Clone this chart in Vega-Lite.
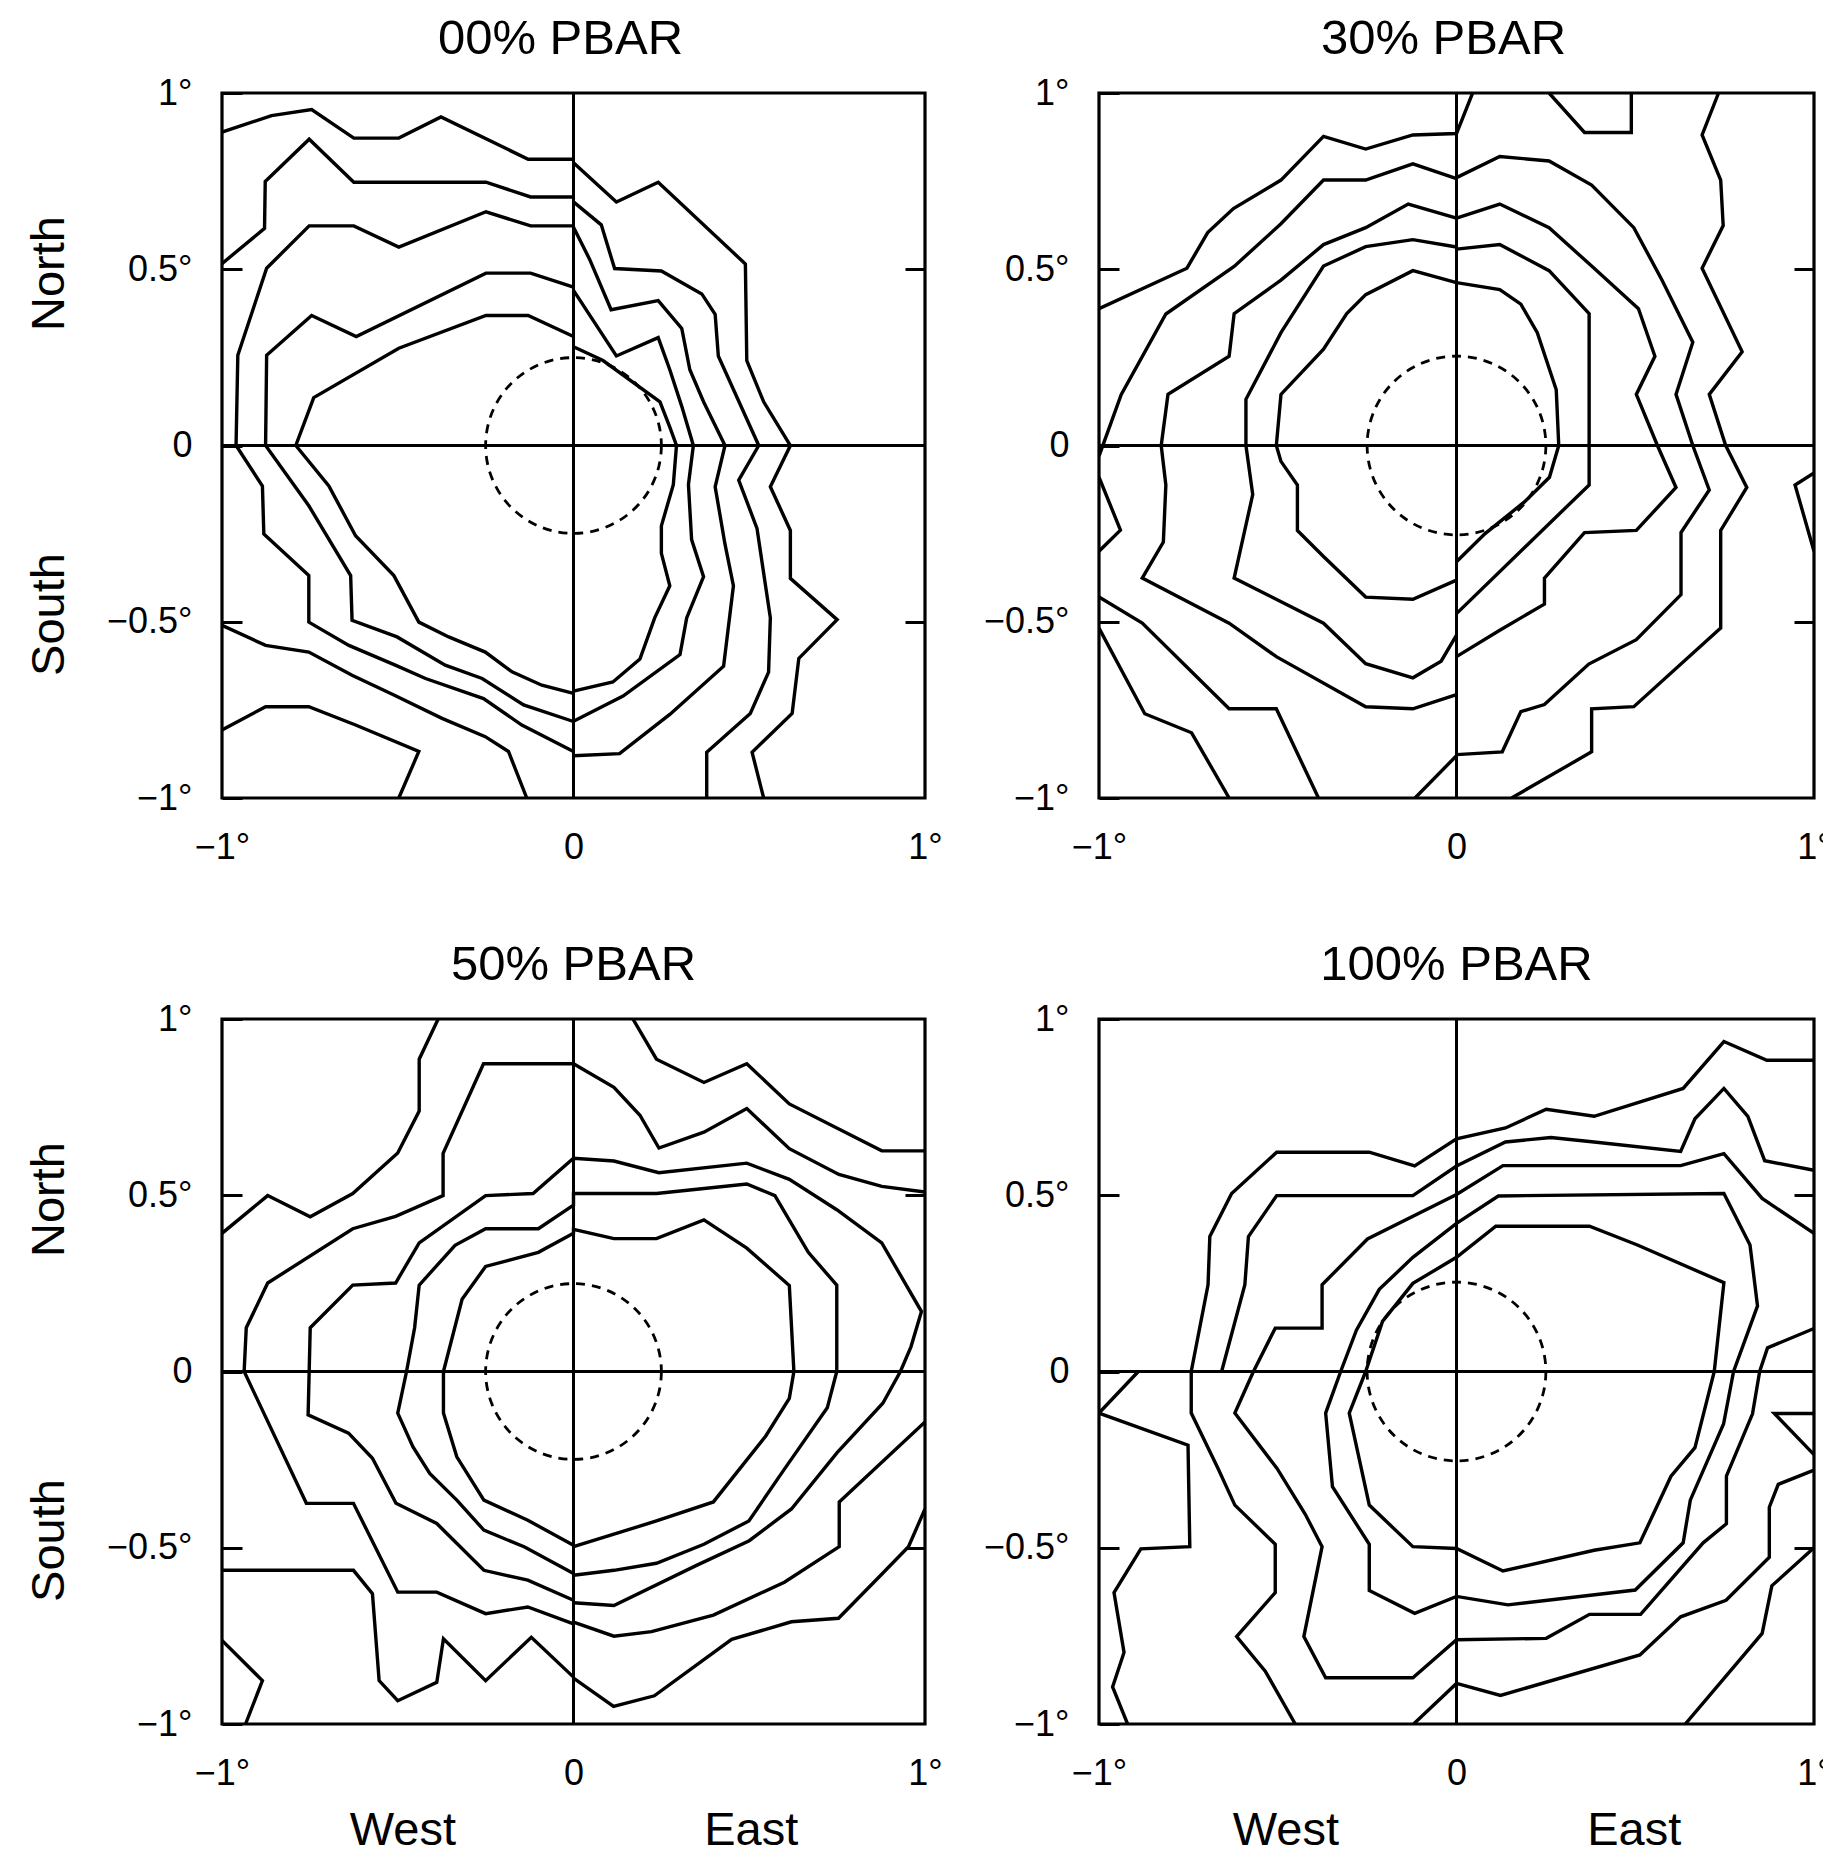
{
"$schema": "https://vega.github.io/schema/vega-lite/v6.json",
"padding": {"left": 23, "top": 13, "right": 0, "bottom": 0},
"background": "white",
"config": {
  "view": {"stroke": "black", "strokeWidth": 3.2},
  "font": "Liberation Sans",
  "axis": {"labelFont": "Liberation Sans", "titleFont": "Liberation Sans", "labelColor": "black", "titleColor": "black", "labelFontSize": 36, "titleFontSize": 47, "titleFontWeight": "normal", "grid": false, "domain": false, "labelFlush": false, "labelOverlap": false},
  "title": {"font": "Liberation Sans", "fontSize": 49, "fontWeight": "normal", "color": "black", "offset": 11, "baseline": "alphabetic", "frame": "group", "anchor": "middle"}
},
"datasets": {
"p1": [
{"c":"a","i":0,"x":-1,"y":0.889},{"c":"a","i":1,"x":-0.859,"y":0.936},{"c":"a","i":2,"x":-0.745,"y":0.953},{"c":"a","i":3,"x":-0.625,"y":0.872},{"c":"a","i":4,"x":-0.497,"y":0.872},{"c":"a","i":5,"x":-0.377,"y":0.932},{"c":"a","i":6,"x":-0.129,"y":0.812},{"c":"a","i":7,"x":0,"y":0.812},
{"c":"b","i":0,"x":-1,"y":0.516},{"c":"b","i":1,"x":-0.879,"y":0.616},{"c":"b","i":2,"x":-0.877,"y":0.749},{"c":"b","i":3,"x":-0.752,"y":0.869},{"c":"b","i":4,"x":-0.625,"y":0.747},{"c":"b","i":5,"x":-0.249,"y":0.747},{"c":"b","i":6,"x":-0.122,"y":0.705},{"c":"b","i":7,"x":0,"y":0.705},
{"c":"c","i":0,"x":0,"y":0.623},{"c":"c","i":1,"x":-0.122,"y":0.623},{"c":"c","i":2,"x":-0.249,"y":0.663},{"c":"c","i":3,"x":-0.497,"y":0.563},{"c":"c","i":4,"x":-0.625,"y":0.623},{"c":"c","i":5,"x":-0.752,"y":0.623},{"c":"c","i":6,"x":-0.873,"y":0.503},{"c":"c","i":7,"x":-0.955,"y":0.256},{"c":"c","i":8,"x":-0.96,"y":0},{"c":"c","i":9,"x":-0.885,"y":-0.115},{"c":"c","i":10,"x":-0.881,"y":-0.251},{"c":"c","i":11,"x":-0.753,"y":-0.369},{"c":"c","i":12,"x":-0.753,"y":-0.501},{"c":"c","i":13,"x":-0.639,"y":-0.567},{"c":"c","i":14,"x":-0.507,"y":-0.623},{"c":"c","i":15,"x":-0.421,"y":-0.661},{"c":"c","i":16,"x":-0.256,"y":-0.718},{"c":"c","i":17,"x":-0.147,"y":-0.793},{"c":"c","i":18,"x":0,"y":-0.868},
{"c":"d","i":0,"x":0,"y":0.449},{"c":"d","i":1,"x":-0.122,"y":0.489},{"c":"d","i":2,"x":-0.249,"y":0.489},{"c":"d","i":3,"x":-0.618,"y":0.309},{"c":"d","i":4,"x":-0.745,"y":0.369},{"c":"d","i":5,"x":-0.873,"y":0.256},{"c":"d","i":6,"x":-0.876,"y":0},{"c":"d","i":7,"x":-0.753,"y":-0.171},{"c":"d","i":8,"x":-0.634,"y":-0.369},{"c":"d","i":9,"x":-0.63,"y":-0.496},{"c":"d","i":10,"x":-0.502,"y":-0.543},{"c":"d","i":11,"x":-0.365,"y":-0.623},{"c":"d","i":12,"x":-0.26,"y":-0.661},{"c":"d","i":13,"x":-0.142,"y":-0.736},{"c":"d","i":14,"x":0,"y":-0.783},
{"c":"e","i":0,"x":0,"y":0.309},{"c":"e","i":1,"x":-0.129,"y":0.369},{"c":"e","i":2,"x":-0.249,"y":0.369},{"c":"e","i":3,"x":-0.497,"y":0.276},{"c":"e","i":4,"x":-0.739,"y":0.136},{"c":"e","i":5,"x":-0.79,"y":0},{"c":"e","i":6,"x":-0.696,"y":-0.115},{"c":"e","i":7,"x":-0.62,"y":-0.256},{"c":"e","i":8,"x":-0.511,"y":-0.369},{"c":"e","i":9,"x":-0.44,"y":-0.501},{"c":"e","i":10,"x":-0.355,"y":-0.543},{"c":"e","i":11,"x":-0.251,"y":-0.586},{"c":"e","i":12,"x":-0.175,"y":-0.642},{"c":"e","i":13,"x":-0.09,"y":-0.68},{"c":"e","i":14,"x":0,"y":-0.703},
{"c":"f","i":0,"x":-1,"y":-0.51},{"c":"f","i":1,"x":-0.876,"y":-0.567},{"c":"f","i":2,"x":-0.753,"y":-0.586},{"c":"f","i":3,"x":-0.63,"y":-0.652},{"c":"f","i":4,"x":-0.511,"y":-0.708},{"c":"f","i":5,"x":-0.374,"y":-0.774},{"c":"f","i":6,"x":-0.251,"y":-0.826},{"c":"f","i":7,"x":-0.185,"y":-0.868},{"c":"f","i":8,"x":-0.133,"y":-1},
{"c":"g","i":0,"x":-1,"y":-0.807},{"c":"g","i":1,"x":-0.876,"y":-0.741},{"c":"g","i":2,"x":-0.753,"y":-0.741},{"c":"g","i":3,"x":-0.62,"y":-0.793},{"c":"g","i":4,"x":-0.44,"y":-0.868},{"c":"g","i":5,"x":-0.497,"y":-1},
{"c":"h","i":0,"x":0,"y":0.802},{"c":"h","i":1,"x":0.122,"y":0.691},{"c":"h","i":2,"x":0.241,"y":0.747},{"c":"h","i":3,"x":0.489,"y":0.515},{"c":"h","i":4,"x":0.493,"y":0.241},{"c":"h","i":5,"x":0.541,"y":0.124},{"c":"h","i":6,"x":0.617,"y":0},{"c":"h","i":7,"x":0.56,"y":-0.117},{"c":"h","i":8,"x":0.617,"y":-0.241},{"c":"h","i":9,"x":0.617,"y":-0.377},{"c":"h","i":10,"x":0.75,"y":-0.494},{"c":"h","i":11,"x":0.641,"y":-0.604},{"c":"h","i":12,"x":0.622,"y":-0.76},{"c":"h","i":13,"x":0.508,"y":-0.87},{"c":"h","i":14,"x":0.541,"y":-1},
{"c":"i","i":0,"x":0,"y":0.691},{"c":"i","i":1,"x":0.079,"y":0.626},{"c":"i","i":2,"x":0.117,"y":0.502},{"c":"i","i":3,"x":0.25,"y":0.495},{"c":"i","i":4,"x":0.365,"y":0.43},{"c":"i","i":5,"x":0.403,"y":0.372},{"c":"i","i":6,"x":0.412,"y":0.254},{"c":"i","i":7,"x":0.465,"y":0.137},{"c":"i","i":8,"x":0.527,"y":0},{"c":"i","i":9,"x":0.47,"y":-0.098},{"c":"i","i":10,"x":0.522,"y":-0.235},{"c":"i","i":11,"x":0.56,"y":-0.489},{"c":"i","i":12,"x":0.555,"y":-0.643},{"c":"i","i":13,"x":0.503,"y":-0.76},{"c":"i","i":14,"x":0.379,"y":-0.87},{"c":"i","i":15,"x":0.379,"y":-1},
{"c":"j","i":0,"x":0,"y":0.619},{"c":"j","i":1,"x":0.046,"y":0.528},{"c":"j","i":2,"x":0.107,"y":0.385},{"c":"j","i":3,"x":0.241,"y":0.411},{"c":"j","i":4,"x":0.308,"y":0.332},{"c":"j","i":5,"x":0.331,"y":0.215},{"c":"j","i":6,"x":0.37,"y":0.124},{"c":"j","i":7,"x":0.431,"y":0},{"c":"j","i":8,"x":0.403,"y":-0.117},{"c":"j","i":9,"x":0.431,"y":-0.28},{"c":"j","i":10,"x":0.455,"y":-0.398},{"c":"j","i":11,"x":0.427,"y":-0.626},{"c":"j","i":12,"x":0.274,"y":-0.763},{"c":"j","i":13,"x":0.131,"y":-0.874},{"c":"j","i":14,"x":0,"y":-0.88},
{"c":"k","i":0,"x":0,"y":0.44},{"c":"k","i":1,"x":0.122,"y":0.254},{"c":"k","i":2,"x":0.241,"y":0.306},{"c":"k","i":3,"x":0.274,"y":0.215},{"c":"k","i":4,"x":0.308,"y":0.111},{"c":"k","i":5,"x":0.341,"y":0},{"c":"k","i":6,"x":0.327,"y":-0.111},{"c":"k","i":7,"x":0.336,"y":-0.267},{"c":"k","i":8,"x":0.37,"y":-0.372},{"c":"k","i":9,"x":0.322,"y":-0.489},{"c":"k","i":10,"x":0.303,"y":-0.593},{"c":"k","i":11,"x":0.141,"y":-0.711},{"c":"k","i":12,"x":0,"y":-0.782},
{"c":"l","i":0,"x":0,"y":0.28},{"c":"l","i":1,"x":0.084,"y":0.241},{"c":"l","i":2,"x":0.246,"y":0.124},{"c":"l","i":3,"x":0.274,"y":0.052},{"c":"l","i":4,"x":0.293,"y":0},{"c":"l","i":5,"x":0.284,"y":-0.111},{"c":"l","i":6,"x":0.25,"y":-0.228},{"c":"l","i":7,"x":0.25,"y":-0.306},{"c":"l","i":8,"x":0.274,"y":-0.398},{"c":"l","i":9,"x":0.231,"y":-0.489},{"c":"l","i":10,"x":0.189,"y":-0.606},{"c":"l","i":11,"x":0.112,"y":-0.671},{"c":"l","i":12,"x":0,"y":-0.697}
],
"p2": [
{"c":"a","i":0,"x":-1,"y":0.388},{"c":"a","i":1,"x":-0.754,"y":0.503},{"c":"a","i":2,"x":-0.696,"y":0.604},{"c":"a","i":3,"x":-0.624,"y":0.672},{"c":"a","i":4,"x":-0.491,"y":0.753},{"c":"a","i":5,"x":-0.372,"y":0.877},{"c":"a","i":6,"x":-0.254,"y":0.841},{"c":"a","i":7,"x":-0.122,"y":0.881},{"c":"a","i":8,"x":0,"y":0.885},{"c":"a","i":9,"x":0.045,"y":1},
{"c":"b","i":0,"x":0,"y":0.757},{"c":"b","i":1,"x":-0.122,"y":0.799},{"c":"b","i":2,"x":-0.254,"y":0.753},{"c":"b","i":3,"x":-0.372,"y":0.753},{"c":"b","i":4,"x":-0.491,"y":0.629},{"c":"b","i":5,"x":-0.622,"y":0.508},{"c":"b","i":6,"x":-0.813,"y":0.373},{"c":"b","i":7,"x":-0.938,"y":0.144},{"c":"b","i":8,"x":-1,"y":-0.03},
{"c":"w","i":0,"x":-1,"y":-0.09},{"c":"w","i":1,"x":-0.94,"y":-0.24},{"c":"w","i":2,"x":-1,"y":-0.3},
{"c":"c","i":0,"x":0,"y":0.645},{"c":"c","i":1,"x":-0.135,"y":0.685},{"c":"c","i":2,"x":-0.254,"y":0.618},{"c":"c","i":3,"x":-0.372,"y":0.57},{"c":"c","i":4,"x":-0.491,"y":0.469},{"c":"c","i":5,"x":-0.622,"y":0.374},{"c":"c","i":6,"x":-0.636,"y":0.253},{"c":"c","i":7,"x":-0.807,"y":0.145},{"c":"c","i":8,"x":-0.826,"y":0},{"c":"c","i":9,"x":-0.813,"y":-0.112},{"c":"c","i":10,"x":-0.82,"y":-0.274},{"c":"c","i":11,"x":-0.879,"y":-0.376},{"c":"c","i":12,"x":-0.636,"y":-0.504},{"c":"c","i":13,"x":-0.504,"y":-0.599},{"c":"c","i":14,"x":-0.254,"y":-0.741},{"c":"c","i":15,"x":-0.122,"y":-0.747},{"c":"c","i":16,"x":0,"y":-0.707},
{"c":"d","i":0,"x":0,"y":0.563},{"c":"d","i":1,"x":-0.122,"y":0.584},{"c":"d","i":2,"x":-0.254,"y":0.564},{"c":"d","i":3,"x":-0.372,"y":0.509},{"c":"d","i":4,"x":-0.491,"y":0.32},{"c":"d","i":5,"x":-0.589,"y":0.131},{"c":"d","i":6,"x":-0.589,"y":0},{"c":"d","i":7,"x":-0.57,"y":-0.139},{"c":"d","i":8,"x":-0.622,"y":-0.376},{"c":"d","i":9,"x":-0.372,"y":-0.504},{"c":"d","i":10,"x":-0.254,"y":-0.619},{"c":"d","i":11,"x":-0.122,"y":-0.659},{"c":"d","i":12,"x":-0.043,"y":-0.612},{"c":"d","i":13,"x":0,"y":-0.538},
{"c":"e","i":0,"x":0,"y":0.462},{"c":"e","i":1,"x":-0.122,"y":0.496},{"c":"e","i":2,"x":-0.254,"y":0.428},{"c":"e","i":3,"x":-0.307,"y":0.374},{"c":"e","i":4,"x":-0.372,"y":0.273},{"c":"e","i":5,"x":-0.491,"y":0.145},{"c":"e","i":6,"x":-0.504,"y":0},{"c":"e","i":7,"x":-0.491,"y":-0.045},{"c":"e","i":8,"x":-0.445,"y":-0.112},{"c":"e","i":9,"x":-0.445,"y":-0.241},{"c":"e","i":10,"x":-0.372,"y":-0.315},{"c":"e","i":11,"x":-0.254,"y":-0.43},{"c":"e","i":12,"x":-0.122,"y":-0.436},{"c":"e","i":13,"x":0,"y":-0.382},
{"c":"f","i":0,"x":-1,"y":-0.43},{"c":"f","i":1,"x":-0.879,"y":-0.504},{"c":"f","i":2,"x":-0.636,"y":-0.747},{"c":"f","i":3,"x":-0.504,"y":-0.747},{"c":"f","i":4,"x":-0.386,"y":-1},
{"c":"g","i":0,"x":-1,"y":-0.518},{"c":"g","i":1,"x":-0.872,"y":-0.761},{"c":"g","i":2,"x":-0.741,"y":-0.815},{"c":"g","i":3,"x":-0.636,"y":-1},
{"c":"h","i":0,"x":0,"y":-0.88},{"c":"h","i":1,"x":-0.116,"y":-1},
{"c":"t","i":0,"x":0.259,"y":1},{"c":"t","i":1,"x":0.358,"y":0.888},{"c":"t","i":2,"x":0.489,"y":0.888},{"c":"t","i":3,"x":0.489,"y":1},
{"c":"r1","i":0,"x":0.733,"y":1},{"c":"r1","i":1,"x":0.687,"y":0.881},{"c":"r1","i":2,"x":0.739,"y":0.753},{"c":"r1","i":3,"x":0.746,"y":0.624},{"c":"r1","i":4,"x":0.687,"y":0.503},{"c":"r1","i":5,"x":0.799,"y":0.266},{"c":"r1","i":6,"x":0.707,"y":0.145},{"c":"r1","i":7,"x":0.753,"y":0},{"c":"r1","i":8,"x":0.812,"y":-0.119},{"c":"r1","i":9,"x":0.739,"y":-0.241},{"c":"r1","i":10,"x":0.739,"y":-0.518},{"c":"r1","i":11,"x":0.496,"y":-0.741},{"c":"r1","i":12,"x":0.378,"y":-0.747},{"c":"r1","i":13,"x":0.378,"y":-0.869},{"c":"r1","i":14,"x":0.154,"y":-1},
{"c":"r2","i":0,"x":0,"y":0.76},{"c":"r2","i":1,"x":0.121,"y":0.82},{"c":"r2","i":2,"x":0.259,"y":0.807},{"c":"r2","i":3,"x":0.378,"y":0.739},{"c":"r2","i":4,"x":0.496,"y":0.618},{"c":"r2","i":5,"x":0.575,"y":0.469},{"c":"r2","i":6,"x":0.661,"y":0.293},{"c":"r2","i":7,"x":0.614,"y":0.145},{"c":"r2","i":8,"x":0.661,"y":0},{"c":"r2","i":9,"x":0.707,"y":-0.126},{"c":"r2","i":10,"x":0.628,"y":-0.247},{"c":"r2","i":11,"x":0.628,"y":-0.423},{"c":"r2","i":12,"x":0.503,"y":-0.551},{"c":"r2","i":13,"x":0.37,"y":-0.62},{"c":"r2","i":14,"x":0.246,"y":-0.735},{"c":"r2","i":15,"x":0.18,"y":-0.755},{"c":"r2","i":16,"x":0.128,"y":-0.869},{"c":"r2","i":17,"x":0,"y":-0.877},
{"c":"r3","i":0,"x":0,"y":0.645},{"c":"r3","i":1,"x":0.121,"y":0.685},{"c":"r3","i":2,"x":0.259,"y":0.618},{"c":"r3","i":3,"x":0.378,"y":0.509},{"c":"r3","i":4,"x":0.509,"y":0.388},{"c":"r3","i":5,"x":0.555,"y":0.253},{"c":"r3","i":6,"x":0.503,"y":0.145},{"c":"r3","i":7,"x":0.562,"y":0},{"c":"r3","i":8,"x":0.614,"y":-0.119},{"c":"r3","i":9,"x":0.503,"y":-0.241},{"c":"r3","i":10,"x":0.358,"y":-0.247},{"c":"r3","i":11,"x":0.246,"y":-0.376},{"c":"r3","i":12,"x":0.246,"y":-0.45},{"c":"r3","i":13,"x":0.121,"y":-0.524},{"c":"r3","i":14,"x":0,"y":-0.599},
{"c":"r4","i":0,"x":0,"y":0.557},{"c":"r4","i":1,"x":0.121,"y":0.57},{"c":"r4","i":2,"x":0.259,"y":0.496},{"c":"r4","i":3,"x":0.371,"y":0.374},{"c":"r4","i":4,"x":0.371,"y":0},{"c":"r4","i":5,"x":0.371,"y":-0.112},{"c":"r4","i":6,"x":0.2,"y":-0.28},{"c":"r4","i":7,"x":0,"y":-0.477},
{"c":"r5","i":0,"x":0,"y":0.462},{"c":"r5","i":1,"x":0.121,"y":0.442},{"c":"r5","i":2,"x":0.18,"y":0.401},{"c":"r5","i":3,"x":0.226,"y":0.32},{"c":"r5","i":4,"x":0.279,"y":0.158},{"c":"r5","i":5,"x":0.286,"y":0},{"c":"r5","i":6,"x":0.26,"y":-0.09},{"c":"r5","i":7,"x":0.19,"y":-0.16},{"c":"r5","i":8,"x":0.08,"y":-0.25},{"c":"r5","i":9,"x":0,"y":-0.33},
{"c":"x","i":0,"x":1,"y":-0.078},{"c":"x","i":1,"x":0.947,"y":-0.112},{"c":"x","i":2,"x":1,"y":-0.3}
],
"p3": [
{"c":"q1","i":0,"x":-1,"y":0.392},{"c":"q1","i":1,"x":-0.87,"y":0.499},{"c":"q1","i":2,"x":-0.749,"y":0.439},{"c":"q1","i":3,"x":-0.628,"y":0.505},{"c":"q1","i":4,"x":-0.5,"y":0.62},{"c":"q1","i":5,"x":-0.439,"y":0.739},{"c":"q1","i":6,"x":-0.439,"y":0.886},{"c":"q1","i":7,"x":-0.385,"y":1},
{"c":"q2","i":0,"x":0,"y":-0.716},{"c":"q2","i":1,"x":-0.13,"y":-0.668},{"c":"q2","i":2,"x":-0.25,"y":-0.687},{"c":"q2","i":3,"x":-0.389,"y":-0.626},{"c":"q2","i":4,"x":-0.5,"y":-0.626},{"c":"q2","i":5,"x":-0.626,"y":-0.374},{"c":"q2","i":6,"x":-0.76,"y":-0.374},{"c":"q2","i":7,"x":-0.937,"y":0},{"c":"q2","i":8,"x":-0.931,"y":0.124},{"c":"q2","i":9,"x":-0.87,"y":0.251},{"c":"q2","i":10,"x":-0.628,"y":0.405},{"c":"q2","i":11,"x":-0.506,"y":0.44},{"c":"q2","i":12,"x":-0.371,"y":0.499},{"c":"q2","i":13,"x":-0.371,"y":0.619},{"c":"q2","i":14,"x":-0.256,"y":0.873},{"c":"q2","i":15,"x":0,"y":0.873},{"c":"q2","i":16,"x":0.115,"y":0.806},{"c":"q2","i":17,"x":0.189,"y":0.727},{"c":"q2","i":18,"x":0.243,"y":0.634},{"c":"q2","i":19,"x":0.371,"y":0.679},{"c":"q2","i":20,"x":0.493,"y":0.746},{"c":"q2","i":21,"x":0.614,"y":0.632},{"c":"q2","i":22,"x":0.755,"y":0.559},{"c":"q2","i":23,"x":0.877,"y":0.525},{"c":"q2","i":24,"x":1,"y":0.509},
{"c":"q3","i":0,"x":0.169,"y":1},{"c":"q3","i":1,"x":0.236,"y":0.886},{"c":"q3","i":2,"x":0.371,"y":0.82},{"c":"q3","i":3,"x":0.493,"y":0.873},{"c":"q3","i":4,"x":0.614,"y":0.759},{"c":"q3","i":5,"x":0.877,"y":0.626},{"c":"q3","i":6,"x":1,"y":0.626},
{"c":"q4","i":0,"x":0,"y":-0.649},{"c":"q4","i":1,"x":-0.13,"y":-0.592},{"c":"q4","i":2,"x":-0.255,"y":-0.564},{"c":"q4","i":3,"x":-0.389,"y":-0.431},{"c":"q4","i":4,"x":-0.505,"y":-0.374},{"c":"q4","i":5,"x":-0.572,"y":-0.246},{"c":"q4","i":6,"x":-0.64,"y":-0.175},{"c":"q4","i":7,"x":-0.755,"y":-0.123},{"c":"q4","i":8,"x":-0.752,"y":0},{"c":"q4","i":9,"x":-0.749,"y":0.124},{"c":"q4","i":10,"x":-0.628,"y":0.245},{"c":"q4","i":11,"x":-0.506,"y":0.251},{"c":"q4","i":12,"x":-0.439,"y":0.365},{"c":"q4","i":13,"x":-0.25,"y":0.499},{"c":"q4","i":14,"x":-0.115,"y":0.505},{"c":"q4","i":15,"x":0,"y":0.605},{"c":"q4","i":16,"x":0.115,"y":0.597},{"c":"q4","i":17,"x":0.243,"y":0.564},{"c":"q4","i":18,"x":0.493,"y":0.591},{"c":"q4","i":19,"x":0.614,"y":0.545},{"c":"q4","i":20,"x":0.749,"y":0.459},{"c":"q4","i":21,"x":0.877,"y":0.365},{"c":"q4","i":22,"x":0.99,"y":0.17},{"c":"q4","i":23,"x":0.96,"y":0.07},{"c":"q4","i":24,"x":0.93,"y":0},{"c":"q4","i":25,"x":0.88,"y":-0.09},{"c":"q4","i":26,"x":0.75,"y":-0.23},{"c":"q4","i":27,"x":0.62,"y":-0.39},{"c":"q4","i":28,"x":0.5,"y":-0.48},{"c":"q4","i":29,"x":0.35,"y":-0.55},{"c":"q4","i":30,"x":0.115,"y":-0.664},{"c":"q4","i":31,"x":0,"y":-0.656},
{"c":"q5","i":0,"x":0,"y":-0.573},{"c":"q5","i":1,"x":-0.139,"y":-0.498},{"c":"q5","i":2,"x":-0.255,"y":-0.45},{"c":"q5","i":3,"x":-0.332,"y":-0.365},{"c":"q5","i":4,"x":-0.409,"y":-0.289},{"c":"q5","i":5,"x":-0.457,"y":-0.213},{"c":"q5","i":6,"x":-0.5,"y":-0.118},{"c":"q5","i":7,"x":-0.475,"y":0},{"c":"q5","i":8,"x":-0.452,"y":0.124},{"c":"q5","i":9,"x":-0.439,"y":0.245},{"c":"q5","i":10,"x":-0.337,"y":0.358},{"c":"q5","i":11,"x":-0.25,"y":0.405},{"c":"q5","i":12,"x":-0.1,"y":0.405},{"c":"q5","i":13,"x":0,"y":0.472},{"c":"q5","i":14,"x":0,"y":0.505},{"c":"q5","i":15,"x":0.236,"y":0.505},{"c":"q5","i":16,"x":0.493,"y":0.532},{"c":"q5","i":17,"x":0.573,"y":0.499},{"c":"q5","i":18,"x":0.668,"y":0.338},{"c":"q5","i":19,"x":0.749,"y":0.245},{"c":"q5","i":20,"x":0.749,"y":0},{"c":"q5","i":21,"x":0.722,"y":-0.103},{"c":"q5","i":22,"x":0.6,"y":-0.277},{"c":"q5","i":23,"x":0.499,"y":-0.424},{"c":"q5","i":24,"x":0.371,"y":-0.49},{"c":"q5","i":25,"x":0.236,"y":-0.544},{"c":"q5","i":26,"x":0.115,"y":-0.564},{"c":"q5","i":27,"x":0,"y":-0.578},
{"c":"q6","i":0,"x":0,"y":-0.493},{"c":"q6","i":1,"x":-0.13,"y":-0.422},{"c":"q6","i":2,"x":-0.255,"y":-0.365},{"c":"q6","i":3,"x":-0.332,"y":-0.242},{"c":"q6","i":4,"x":-0.37,"y":-0.118},{"c":"q6","i":5,"x":-0.37,"y":0},{"c":"q6","i":6,"x":-0.317,"y":0.205},{"c":"q6","i":7,"x":-0.25,"y":0.298},{"c":"q6","i":8,"x":-0.1,"y":0.338},{"c":"q6","i":9,"x":0,"y":0.392},{"c":"q6","i":10,"x":0,"y":0.403},{"c":"q6","i":11,"x":0.115,"y":0.377},{"c":"q6","i":12,"x":0.236,"y":0.377},{"c":"q6","i":13,"x":0.371,"y":0.43},{"c":"q6","i":14,"x":0.493,"y":0.35},{"c":"q6","i":15,"x":0.614,"y":0.244},{"c":"q6","i":16,"x":0.627,"y":0},{"c":"q6","i":17,"x":0.614,"y":-0.076},{"c":"q6","i":18,"x":0.547,"y":-0.183},{"c":"q6","i":19,"x":0.398,"y":-0.37},{"c":"q6","i":20,"x":0.236,"y":-0.424},{"c":"q6","i":21,"x":0,"y":-0.497},
{"c":"s2","i":0,"x":1,"y":-0.143},{"c":"s2","i":1,"x":0.756,"y":-0.37},{"c":"s2","i":2,"x":0.756,"y":-0.497},{"c":"s2","i":3,"x":0.6,"y":-0.598},{"c":"s2","i":4,"x":0.398,"y":-0.691},{"c":"s2","i":5,"x":0.222,"y":-0.738},{"c":"s2","i":6,"x":0.115,"y":-0.751},{"c":"s2","i":7,"x":0,"y":-0.711},
{"c":"s1","i":0,"x":1,"y":-0.39},{"c":"s1","i":1,"x":0.953,"y":-0.497},{"c":"s1","i":2,"x":0.872,"y":-0.58},{"c":"s1","i":3,"x":0.754,"y":-0.7},{"c":"s1","i":4,"x":0.62,"y":-0.71},{"c":"s1","i":5,"x":0.45,"y":-0.76},{"c":"s1","i":6,"x":0.23,"y":-0.92},{"c":"s1","i":7,"x":0.114,"y":-0.95},{"c":"s1","i":8,"x":0,"y":-0.87},
{"c":"z","i":0,"x":-1,"y":-0.564},{"c":"z","i":1,"x":-0.626,"y":-0.564},{"c":"z","i":2,"x":-0.572,"y":-0.63},{"c":"z","i":3,"x":-0.553,"y":-0.877},{"c":"z","i":4,"x":-0.5,"y":-0.934},{"c":"z","i":5,"x":-0.389,"y":-0.882},{"c":"z","i":6,"x":-0.37,"y":-0.758},{"c":"z","i":7,"x":-0.25,"y":-0.877},{"c":"z","i":8,"x":-0.12,"y":-0.754},{"c":"z","i":9,"x":0,"y":-0.867},
{"c":"k","i":0,"x":-1,"y":-0.763},{"c":"k","i":1,"x":-0.885,"y":-0.877},{"c":"k","i":2,"x":-0.933,"y":-1}
],
"p4": [
{"c":"u1","i":0,"x":-0.742,"y":0},{"c":"u1","i":1,"x":-0.695,"y":0.246},{"c":"u1","i":2,"x":-0.69,"y":0.383},{"c":"u1","i":3,"x":-0.629,"y":0.505},{"c":"u1","i":4,"x":-0.503,"y":0.622},{"c":"u1","i":5,"x":-0.244,"y":0.622},{"c":"u1","i":6,"x":-0.117,"y":0.583},{"c":"u1","i":7,"x":0,"y":0.66},{"c":"u1","i":8,"x":0.137,"y":0.691},{"c":"u1","i":9,"x":0.251,"y":0.744},{"c":"u1","i":10,"x":0.385,"y":0.724},{"c":"u1","i":11,"x":0.634,"y":0.803},{"c":"u1","i":12,"x":0.748,"y":0.936},{"c":"u1","i":13,"x":0.868,"y":0.883},{"c":"u1","i":14,"x":1,"y":0.883},
{"c":"u2","i":0,"x":-0.657,"y":0},{"c":"u2","i":1,"x":-0.592,"y":0.246},{"c":"u2","i":2,"x":-0.582,"y":0.383},{"c":"u2","i":3,"x":-0.503,"y":0.499},{"c":"u2","i":4,"x":-0.122,"y":0.499},{"c":"u2","i":5,"x":0,"y":0.583},{"c":"u2","i":6,"x":0.137,"y":0.651},{"c":"u2","i":7,"x":0.264,"y":0.664},{"c":"u2","i":8,"x":0.385,"y":0.651},{"c":"u2","i":9,"x":0.627,"y":0.624},{"c":"u2","i":10,"x":0.667,"y":0.717},{"c":"u2","i":11,"x":0.748,"y":0.803},{"c":"u2","i":12,"x":0.815,"y":0.724},{"c":"u2","i":13,"x":0.862,"y":0.598},{"c":"u2","i":14,"x":1,"y":0.571},
{"c":"u3","i":0,"x":-0.568,"y":0},{"c":"u3","i":1,"x":-0.507,"y":0.123},{"c":"u3","i":2,"x":-0.376,"y":0.123},{"c":"u3","i":3,"x":-0.376,"y":0.246},{"c":"u3","i":4,"x":-0.249,"y":0.376},{"c":"u3","i":5,"x":0,"y":0.502},{"c":"u3","i":6,"x":0.13,"y":0.584},{"c":"u3","i":7,"x":0.627,"y":0.584},{"c":"u3","i":8,"x":0.748,"y":0.618},{"c":"u3","i":9,"x":0.855,"y":0.491},{"c":"u3","i":10,"x":1,"y":0.392},
{"c":"u4","i":0,"x":-0.324,"y":0},{"c":"u4","i":1,"x":-0.28,"y":0.117},{"c":"u4","i":2,"x":-0.216,"y":0.233},{"c":"u4","i":3,"x":-0.122,"y":0.324},{"c":"u4","i":4,"x":0,"y":0.42},{"c":"u4","i":5,"x":0.117,"y":0.498},{"c":"u4","i":6,"x":0.748,"y":0.505},{"c":"u4","i":7,"x":0.821,"y":0.359},{"c":"u4","i":8,"x":0.842,"y":0.186},{"c":"u4","i":9,"x":0.775,"y":0},{"c":"u4","i":10,"x":0.747,"y":-0.149},{"c":"u4","i":11,"x":0.654,"y":-0.365},{"c":"u4","i":12,"x":0.634,"y":-0.486},{"c":"u4","i":13,"x":0.5,"y":-0.62},{"c":"u4","i":14,"x":0.144,"y":-0.662},{"c":"u4","i":15,"x":0,"y":-0.638},{"c":"u4","i":16,"x":-0.117,"y":-0.686},{"c":"u4","i":17,"x":-0.244,"y":-0.621},{"c":"u4","i":18,"x":-0.244,"y":-0.49},{"c":"u4","i":19,"x":-0.347,"y":-0.327},{"c":"u4","i":20,"x":-0.366,"y":-0.118},{"c":"u4","i":21,"x":-0.324,"y":0},
{"c":"u5","i":0,"x":-0.254,"y":0},{"c":"u5","i":1,"x":-0.207,"y":0.142},{"c":"u5","i":2,"x":-0.122,"y":0.25},{"c":"u5","i":3,"x":0,"y":0.324},{"c":"u5","i":4,"x":0.11,"y":0.412},{"c":"u5","i":5,"x":0.372,"y":0.412},{"c":"u5","i":6,"x":0.506,"y":0.359},{"c":"u5","i":7,"x":0.748,"y":0.252},{"c":"u5","i":8,"x":0.721,"y":0},{"c":"u5","i":9,"x":0.667,"y":-0.216},{"c":"u5","i":10,"x":0.6,"y":-0.297},{"c":"u5","i":11,"x":0.513,"y":-0.486},{"c":"u5","i":12,"x":0.385,"y":-0.507},{"c":"u5","i":13,"x":0.13,"y":-0.566},{"c":"u5","i":14,"x":0,"y":-0.502},{"c":"u5","i":15,"x":-0.122,"y":-0.497},{"c":"u5","i":16,"x":-0.244,"y":-0.379},{"c":"u5","i":17,"x":-0.3,"y":-0.118},{"c":"u5","i":18,"x":-0.254,"y":0},
{"c":"x3","i":0,"x":1,"y":0.122},{"c":"x3","i":1,"x":0.87,"y":0.067},{"c":"x3","i":2,"x":0.848,"y":0},{"c":"x3","i":3,"x":0.828,"y":-0.12},{"c":"x3","i":4,"x":0.755,"y":-0.297},{"c":"x3","i":5,"x":0.755,"y":-0.432},{"c":"x3","i":6,"x":0.69,"y":-0.486},{"c":"x3","i":7,"x":0.515,"y":-0.689},{"c":"x3","i":8,"x":0.372,"y":-0.689},{"c":"x3","i":9,"x":0.251,"y":-0.757},{"c":"x3","i":10,"x":0,"y":-0.761},{"c":"x3","i":11,"x":-0.122,"y":-0.869},{"c":"x3","i":12,"x":-0.366,"y":-0.869},{"c":"x3","i":13,"x":-0.427,"y":-0.752},{"c":"x3","i":14,"x":-0.376,"y":-0.497},{"c":"x3","i":15,"x":-0.423,"y":-0.405},{"c":"x3","i":16,"x":-0.502,"y":-0.275},{"c":"x3","i":17,"x":-0.62,"y":-0.118},{"c":"x3","i":18,"x":-0.568,"y":0},
{"c":"x2","i":0,"x":1,"y":-0.28},{"c":"x2","i":1,"x":0.9,"y":-0.32},{"c":"x2","i":2,"x":0.875,"y":-0.385},{"c":"x2","i":3,"x":0.875,"y":-0.527},{"c":"x2","i":4,"x":0.754,"y":-0.649},{"c":"x2","i":5,"x":0.627,"y":-0.696},{"c":"x2","i":6,"x":0.513,"y":-0.804},{"c":"x2","i":7,"x":0.123,"y":-0.919},{"c":"x2","i":8,"x":0,"y":-0.885},{"c":"x2","i":9,"x":-0.12,"y":-1},
{"c":"tr","i":0,"x":1,"y":-0.119},{"c":"tr","i":1,"x":0.889,"y":-0.119},{"c":"tr","i":2,"x":1,"y":-0.236},
{"c":"x1","i":0,"x":1,"y":-0.5},{"c":"x1","i":1,"x":0.882,"y":-0.608},{"c":"x1","i":2,"x":0.855,"y":-0.743},{"c":"x1","i":3,"x":0.64,"y":-1},
{"c":"v1","i":0,"x":-0.742,"y":0},{"c":"v1","i":1,"x":-0.742,"y":-0.118},{"c":"v1","i":2,"x":-0.667,"y":-0.275},{"c":"v1","i":3,"x":-0.62,"y":-0.379},{"c":"v1","i":4,"x":-0.507,"y":-0.49},{"c":"v1","i":5,"x":-0.507,"y":-0.627},{"c":"v1","i":6,"x":-0.615,"y":-0.752},{"c":"v1","i":7,"x":-0.535,"y":-0.85},{"c":"v1","i":8,"x":-0.451,"y":-1},
{"c":"v0","i":0,"x":-0.89,"y":0},{"c":"v0","i":1,"x":-1,"y":-0.118},{"c":"v0","i":2,"x":-0.751,"y":-0.209},{"c":"v0","i":3,"x":-0.746,"y":-0.497},{"c":"v0","i":4,"x":-0.883,"y":-0.503},{"c":"v0","i":5,"x":-0.958,"y":-0.627},{"c":"v0","i":6,"x":-0.93,"y":-0.797},{"c":"v0","i":7,"x":-0.962,"y":-0.895},{"c":"v0","i":8,"x":-0.92,"y":-1}
]
},
"columns": 2,
"spacing": {"row": 221, "column": 174},
"bounds": "flush",
"concat": [
{
 "width": 703, "height": 705,
 "title": {"text": "00% PBAR", "dx": -13},
 "layer": [
  {"data": {"name": "p1"}, "mark": {"type": "line", "stroke": "black", "strokeWidth": 3.4, "clip": true},
   "encoding": {
    "x": {"field": "x", "type": "quantitative", "scale": {"domain": [-1, 1], "nice": false, "zero": false}, "axis": {"values": [-1, 0, 1], "ticks": false, "labelPadding": 32, "format": "~g", "labelExpr": "datum.value == 0 ? '0' : datum.label + '°'", "title": null}},
    "y": {"field": "y", "type": "quantitative", "scale": {"domain": [-1, 1], "nice": false, "zero": false}, "axis": {"orient": "left", "values": [-1, -0.5, 0, 0.5, 1], "offset": -20, "tickSize": 20, "tickWidth": 3, "tickColor": "black", "labelPadding": 30, "format": "~g", "labelExpr": "datum.value == 0 ? '0' : datum.label + '°'", "title": "South\u00a0\u00a0\u00a0\u00a0\u00a0\u00a0\u00a0\u00a0\u00a0\u00a0\u00a0\u00a0\u00a0\u00a0\u00a0\u00a0\u00a0North", "titlePadding": 33}},
    "detail": {"field": "c", "type": "nominal"},
    "order": {"field": "i", "type": "quantitative"}
   }},
  {"data": {"values": [{"v": 0}]}, "mark": {"type": "rule", "stroke": "black", "strokeWidth": 3},
   "encoding": {"x": {"field": "v", "type": "quantitative", "scale": {"domain": [-1, 1], "nice": false, "zero": false}, "axis": {"values": [-1, 0, 1], "ticks": false, "labelPadding": 32, "format": "~g", "labelExpr": "datum.value == 0 ? '0' : datum.label + '°'", "title": null}}}},
  {"data": {"values": [{"v": 0}]}, "mark": {"type": "rule", "stroke": "black", "strokeWidth": 3},
   "encoding": {"y": {"field": "v", "type": "quantitative", "scale": {"domain": [-1, 1], "nice": false, "zero": false}, "axis": {"orient": "right", "values": [-0.5, 0.5], "offset": -20, "tickSize": 20, "tickWidth": 3, "tickColor": "black", "labels": false, "title": null}}}},
  {"data": {"values": [{"v": 0}]}, "mark": {"type": "point", "shape": "circle", "filled": false, "stroke": "black", "strokeWidth": 2.8, "strokeDash": [9, 7], "size": 30888, "opacity": 1},
   "encoding": {"x": {"field": "v", "type": "quantitative", "scale": {"domain": [-1, 1], "nice": false, "zero": false}, "axis": {"values": [-1, 0, 1], "ticks": false, "labelPadding": 32, "format": "~g", "labelExpr": "datum.value == 0 ? '0' : datum.label + '°'", "title": null}}, "y": {"field": "v", "type": "quantitative", "scale": {"domain": [-1, 1], "nice": false, "zero": false}, "axis": null}}}
 ],
 "resolve": {"axis": {"y": "independent"}}
},
{
 "width": 715, "height": 705,
 "title": {"text": "30% PBAR", "dx": -13},
 "layer": [
  {"data": {"name": "p2"}, "mark": {"type": "line", "stroke": "black", "strokeWidth": 3.4, "clip": true},
   "encoding": {
    "x": {"field": "x", "type": "quantitative", "scale": {"domain": [-1, 1], "nice": false, "zero": false}, "axis": {"values": [-1, 0, 1], "ticks": false, "labelPadding": 32, "format": "~g", "labelExpr": "datum.value == 0 ? '0' : datum.label + '°'", "title": null}},
    "y": {"field": "y", "type": "quantitative", "scale": {"domain": [-1, 1], "nice": false, "zero": false}, "axis": {"orient": "left", "values": [-1, -0.5, 0, 0.5, 1], "offset": -20, "tickSize": 20, "tickWidth": 3, "tickColor": "black", "labelPadding": 30, "format": "~g", "labelExpr": "datum.value == 0 ? '0' : datum.label + '°'", "title": null}},
    "detail": {"field": "c", "type": "nominal"},
    "order": {"field": "i", "type": "quantitative"}
   }},
  {"data": {"values": [{"v": 0}]}, "mark": {"type": "rule", "stroke": "black", "strokeWidth": 3},
   "encoding": {"x": {"field": "v", "type": "quantitative", "scale": {"domain": [-1, 1], "nice": false, "zero": false}, "axis": {"values": [-1, 0, 1], "ticks": false, "labelPadding": 32, "format": "~g", "labelExpr": "datum.value == 0 ? '0' : datum.label + '°'", "title": null}}}},
  {"data": {"values": [{"v": 0}]}, "mark": {"type": "rule", "stroke": "black", "strokeWidth": 3},
   "encoding": {"y": {"field": "v", "type": "quantitative", "scale": {"domain": [-1, 1], "nice": false, "zero": false}, "axis": {"orient": "right", "values": [-0.5, 0.5], "offset": -20, "tickSize": 20, "tickWidth": 3, "tickColor": "black", "labels": false, "title": null}}}},
  {"data": {"values": [{"v": 0}]}, "mark": {"type": "point", "shape": "circle", "filled": false, "stroke": "black", "strokeWidth": 2.8, "strokeDash": [9, 7], "size": 31950, "opacity": 1},
   "encoding": {"x": {"field": "v", "type": "quantitative", "scale": {"domain": [-1, 1], "nice": false, "zero": false}, "axis": {"values": [-1, 0, 1], "ticks": false, "labelPadding": 32, "format": "~g", "labelExpr": "datum.value == 0 ? '0' : datum.label + '°'", "title": null}}, "y": {"field": "v", "type": "quantitative", "scale": {"domain": [-1, 1], "nice": false, "zero": false}, "axis": null}}}
 ],
 "resolve": {"axis": {"y": "independent"}}
},
{
 "width": 703, "height": 705,
 "title": "50% PBAR",
 "layer": [
  {"data": {"name": "p3"}, "mark": {"type": "line", "stroke": "black", "strokeWidth": 3.4, "clip": true},
   "encoding": {
    "x": {"field": "x", "type": "quantitative", "scale": {"domain": [-1, 1], "nice": false, "zero": false}, "axis": {"values": [-1, 0, 1], "ticks": false, "labelPadding": 32, "format": "~g", "labelExpr": "datum.value == 0 ? '0' : datum.label + '°'", "title": "West\u00a0\u00a0\u00a0\u00a0\u00a0\u00a0\u00a0\u00a0\u00a0\u00a0\u00a0\u00a0\u00a0\u00a0\u00a0\u00a0\u00a0\u00a0\u00a0East", "titlePadding": 16}},
    "y": {"field": "y", "type": "quantitative", "scale": {"domain": [-1, 1], "nice": false, "zero": false}, "axis": {"orient": "left", "values": [-1, -0.5, 0, 0.5, 1], "offset": -20, "tickSize": 20, "tickWidth": 3, "tickColor": "black", "labelPadding": 30, "format": "~g", "labelExpr": "datum.value == 0 ? '0' : datum.label + '°'", "title": "South\u00a0\u00a0\u00a0\u00a0\u00a0\u00a0\u00a0\u00a0\u00a0\u00a0\u00a0\u00a0\u00a0\u00a0\u00a0\u00a0\u00a0North", "titlePadding": 33}},
    "detail": {"field": "c", "type": "nominal"},
    "order": {"field": "i", "type": "quantitative"}
   }},
  {"data": {"values": [{"v": 0}]}, "mark": {"type": "rule", "stroke": "black", "strokeWidth": 3},
   "encoding": {"x": {"field": "v", "type": "quantitative", "scale": {"domain": [-1, 1], "nice": false, "zero": false}, "axis": {"values": [-1, 0, 1], "ticks": false, "labelPadding": 32, "format": "~g", "labelExpr": "datum.value == 0 ? '0' : datum.label + '°'", "title": "West\u00a0\u00a0\u00a0\u00a0\u00a0\u00a0\u00a0\u00a0\u00a0\u00a0\u00a0\u00a0\u00a0\u00a0\u00a0\u00a0\u00a0\u00a0\u00a0East", "titlePadding": 16}}}},
  {"data": {"values": [{"v": 0}]}, "mark": {"type": "rule", "stroke": "black", "strokeWidth": 3},
   "encoding": {"y": {"field": "v", "type": "quantitative", "scale": {"domain": [-1, 1], "nice": false, "zero": false}, "axis": {"orient": "right", "values": [-0.5, 0.5], "offset": -20, "tickSize": 20, "tickWidth": 3, "tickColor": "black", "labels": false, "title": null}}}},
  {"data": {"values": [{"v": 0}]}, "mark": {"type": "point", "shape": "circle", "filled": false, "stroke": "black", "strokeWidth": 2.8, "strokeDash": [9, 7], "size": 30888, "opacity": 1},
   "encoding": {"x": {"field": "v", "type": "quantitative", "scale": {"domain": [-1, 1], "nice": false, "zero": false}, "axis": {"values": [-1, 0, 1], "ticks": false, "labelPadding": 32, "format": "~g", "labelExpr": "datum.value == 0 ? '0' : datum.label + '°'", "title": "West\u00a0\u00a0\u00a0\u00a0\u00a0\u00a0\u00a0\u00a0\u00a0\u00a0\u00a0\u00a0\u00a0\u00a0\u00a0\u00a0\u00a0\u00a0\u00a0East", "titlePadding": 16}}, "y": {"field": "v", "type": "quantitative", "scale": {"domain": [-1, 1], "nice": false, "zero": false}, "axis": null}}}
 ],
 "resolve": {"axis": {"y": "independent"}}
},
{
 "width": 715, "height": 705,
 "title": "100% PBAR",
 "layer": [
  {"data": {"name": "p4"}, "mark": {"type": "line", "stroke": "black", "strokeWidth": 3.4, "clip": true},
   "encoding": {
    "x": {"field": "x", "type": "quantitative", "scale": {"domain": [-1, 1], "nice": false, "zero": false}, "axis": {"values": [-1, 0, 1], "ticks": false, "labelPadding": 32, "format": "~g", "labelExpr": "datum.value == 0 ? '0' : datum.label + '°'", "title": "West\u00a0\u00a0\u00a0\u00a0\u00a0\u00a0\u00a0\u00a0\u00a0\u00a0\u00a0\u00a0\u00a0\u00a0\u00a0\u00a0\u00a0\u00a0\u00a0East", "titlePadding": 16}},
    "y": {"field": "y", "type": "quantitative", "scale": {"domain": [-1, 1], "nice": false, "zero": false}, "axis": {"orient": "left", "values": [-1, -0.5, 0, 0.5, 1], "offset": -20, "tickSize": 20, "tickWidth": 3, "tickColor": "black", "labelPadding": 30, "format": "~g", "labelExpr": "datum.value == 0 ? '0' : datum.label + '°'", "title": null}},
    "detail": {"field": "c", "type": "nominal"},
    "order": {"field": "i", "type": "quantitative"}
   }},
  {"data": {"values": [{"v": 0}]}, "mark": {"type": "rule", "stroke": "black", "strokeWidth": 3},
   "encoding": {"x": {"field": "v", "type": "quantitative", "scale": {"domain": [-1, 1], "nice": false, "zero": false}, "axis": {"values": [-1, 0, 1], "ticks": false, "labelPadding": 32, "format": "~g", "labelExpr": "datum.value == 0 ? '0' : datum.label + '°'", "title": "West\u00a0\u00a0\u00a0\u00a0\u00a0\u00a0\u00a0\u00a0\u00a0\u00a0\u00a0\u00a0\u00a0\u00a0\u00a0\u00a0\u00a0\u00a0\u00a0East", "titlePadding": 16}}}},
  {"data": {"values": [{"v": 0}]}, "mark": {"type": "rule", "stroke": "black", "strokeWidth": 3},
   "encoding": {"y": {"field": "v", "type": "quantitative", "scale": {"domain": [-1, 1], "nice": false, "zero": false}, "axis": {"orient": "right", "values": [-0.5, 0.5], "offset": -20, "tickSize": 20, "tickWidth": 3, "tickColor": "black", "labels": false, "title": null}}}},
  {"data": {"values": [{"v": 0}]}, "mark": {"type": "point", "shape": "circle", "filled": false, "stroke": "black", "strokeWidth": 2.8, "strokeDash": [9, 7], "size": 31950, "opacity": 1},
   "encoding": {"x": {"field": "v", "type": "quantitative", "scale": {"domain": [-1, 1], "nice": false, "zero": false}, "axis": {"values": [-1, 0, 1], "ticks": false, "labelPadding": 32, "format": "~g", "labelExpr": "datum.value == 0 ? '0' : datum.label + '°'", "title": "West\u00a0\u00a0\u00a0\u00a0\u00a0\u00a0\u00a0\u00a0\u00a0\u00a0\u00a0\u00a0\u00a0\u00a0\u00a0\u00a0\u00a0\u00a0\u00a0East", "titlePadding": 16}}, "y": {"field": "v", "type": "quantitative", "scale": {"domain": [-1, 1], "nice": false, "zero": false}, "axis": null}}}
 ],
 "resolve": {"axis": {"y": "independent"}}
}
]
}
